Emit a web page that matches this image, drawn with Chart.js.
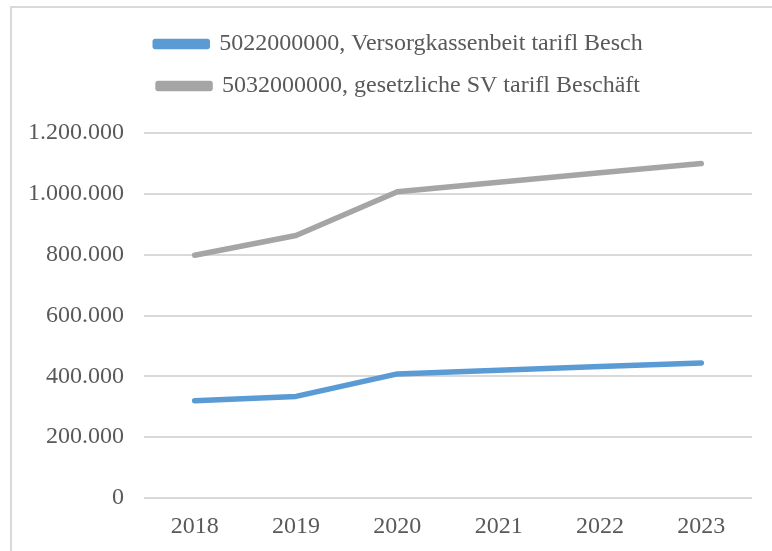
<!DOCTYPE html>
<html>
<head>
<meta charset="utf-8">
<script src="https://cdn.jsdelivr.net/npm/chart.js@4/dist/chart.umd.min.js"></script>
<style>
  html, body { margin: 0; padding: 0; background: #fff; overflow: hidden; width: 772px; height: 551px; }
  #box { position: absolute; left: 10px; top: 6px; width: 780px; height: 560px; border: 2px solid #d9d9d9; background: #fff; }
  #wrap { position: absolute; left: 0; top: 0; width: 780px; height: 543px; }
</style>
</head>
<body>
<div id="box"><div id="wrap"><canvas id="c"></canvas></div></div>
<script>
const categories = ['2018', '2019', '2020', '2021', '2022', '2023'];
const seriesNames = ['5022000000, Versorgkassenbeit tarifl Besch', '5032000000, gesetzliche SV tarifl Beschäft'];
const versorgkasse = [320000, 334000, 408000, 420000, 432000, 444000];
const gesetzlicheSV = [798000, 863000, 1007000, 1038000, 1069000, 1100000];
const yTicks = [0, 200000, 400000, 600000, 800000, 1000000, 1200000];

const fontFamily = "'Liberation Serif', 'Times New Roman', serif";
const textColor = '#595959';

function fmt(v) {
  return String(v).replace(/\B(?=(\d{3})+(?!\d))/g, '.');
}

const legendGap = {
  id: 'legendGap',
  beforeLayout(chart) {
    const lg = chart.legend;
    if (lg && !lg._gapPatched) {
      const orig = lg.fit;
      lg.fit = function () { orig.apply(this, arguments); this.height += 25; };
      lg._gapPatched = true;
    }
  },
  afterLayout(chart) {
    const lg = chart.legend;
    if (lg) { lg.left += 17; lg.right += 17; }
  }
};

new Chart(document.getElementById('c'), {
  type: 'line',
  data: {
    labels: categories,
    datasets: [
      { label: seriesNames[0], data: versorgkasse, borderColor: '#5B9BD5', backgroundColor: '#5B9BD5', borderWidth: 5.5, pointRadius: 0, tension: 0, borderCapStyle: 'round', borderJoinStyle: 'round' },
      { label: seriesNames[1], data: gesetzlicheSV, borderColor: '#A5A5A5', backgroundColor: '#A5A5A5', borderWidth: 5.5, pointRadius: 0, tension: 0, borderCapStyle: 'round', borderJoinStyle: 'round' }
    ]
  },
  plugins: [legendGap],
  options: {
    responsive: true,
    maintainAspectRatio: false,
    animation: false,
    layout: { padding: { left: 0, right: 40, top: 6, bottom: 0 } },
    plugins: {
      tooltip: { enabled: false },
      legend: {
        position: 'top',
        align: 'center',
        labels: {
          boxWidth: 52,
          boxHeight: 5,
          padding: 18,
          color: textColor,
          font: { family: fontFamily, size: 24 }
        }
      }
    },
    scales: {
      x: {
        offset: true,
        grid: { display: false, drawTicks: false },
        border: { display: false },
        ticks: { color: textColor, font: { family: fontFamily, size: 24 }, padding: 14, maxRotation: 0 },
        afterFit: (s) => { s.height = 53; }
      },
      y: {
        min: 0,
        max: 1200000,
        afterBuildTicks: (s) => { s.ticks = yTicks.map(v => ({ value: v })); },
        grid: { color: '#d9d9d9', lineWidth: 2, drawTicks: false },
        border: { display: false },
        ticks: { color: textColor, font: { family: fontFamily, size: 24 }, padding: 20, callback: (v) => fmt(v) },
        afterFit: (s) => { s.width = 132; }
      }
    }
  }
});
</script>
</body>
</html>
